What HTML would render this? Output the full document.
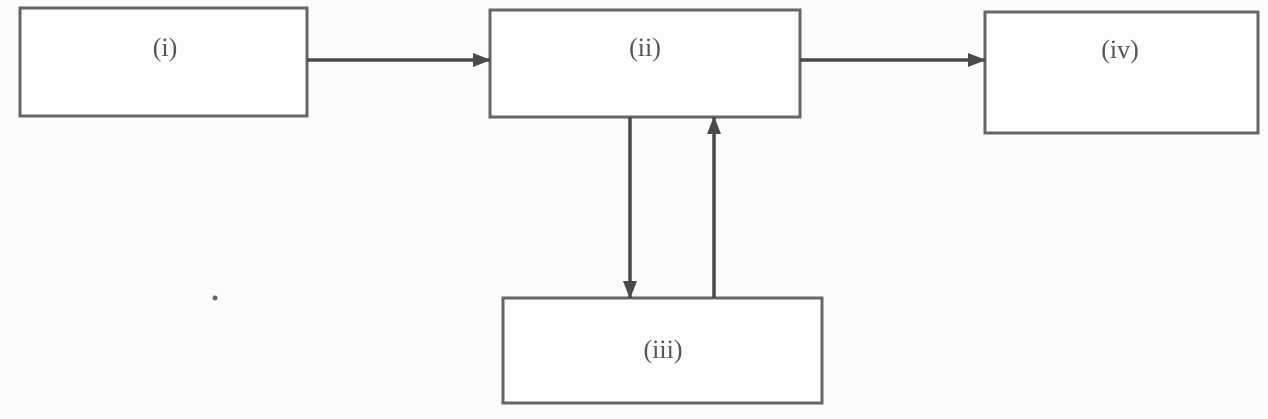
<!DOCTYPE html>
<html>
<head>
<meta charset="utf-8">
<style>
html,body{margin:0;padding:0;background:#fbfbfb;}
svg{display:block;}
text{font-family:"Liberation Serif",serif;font-size:26px;fill:#555;}
</style>
</head>
<body>
<svg width="1268" height="419" viewBox="0 0 1268 419">
<defs>
<marker id="ah" markerWidth="18" markerHeight="14" refX="17" refY="7" orient="auto" markerUnits="userSpaceOnUse">
<path d="M0,0 L18,7 L0,14 Z" fill="#4a4a4a"/>
</marker>
</defs>
<g>
<rect x="20" y="8" width="287" height="108" fill="#fdfdfd" stroke="#666" stroke-width="3"/>
<text x="165" y="56" text-anchor="middle">(i)</text>
</g>
<g>
<rect x="490" y="10" width="310" height="107" fill="#fdfdfd" stroke="#666" stroke-width="3"/>
<text x="645" y="56" text-anchor="middle">(ii)</text>
</g>
<g>
<rect x="985" y="12" width="273" height="121" fill="#fdfdfd" stroke="#666" stroke-width="3"/>
<text x="1120" y="58" text-anchor="middle">(iv)</text>
</g>
<g>
<rect x="503" y="298" width="319" height="105" fill="#fdfdfd" stroke="#666" stroke-width="3"/>
<text x="663" y="358" text-anchor="middle">(iii)</text>
</g>
<line x1="307" y1="60" x2="490" y2="60" stroke="#4a4a4a" stroke-width="3.5" marker-end="url(#ah)"/>
<line x1="800" y1="60" x2="985" y2="60" stroke="#4a4a4a" stroke-width="3.5" marker-end="url(#ah)"/>
<line x1="630" y1="117" x2="630" y2="298" stroke="#4a4a4a" stroke-width="3.5" marker-end="url(#ah)"/>
<line x1="714" y1="298" x2="714" y2="117" stroke="#4a4a4a" stroke-width="3.5" marker-end="url(#ah)"/>
<circle cx="215" cy="298" r="2.5" fill="#666"/>
</svg>
</body>
</html>
